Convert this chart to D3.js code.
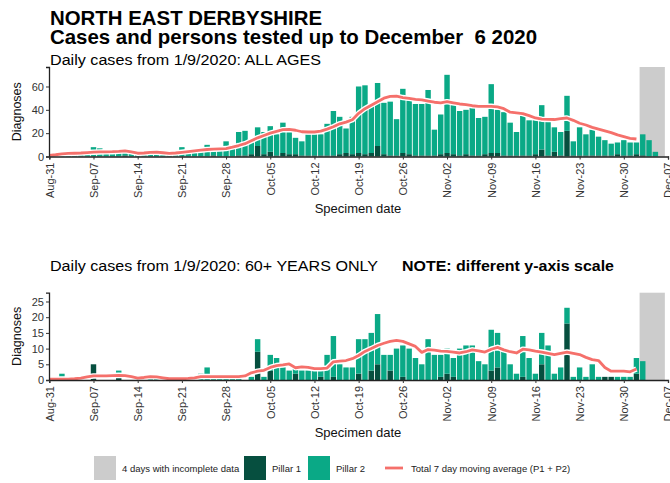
<!DOCTYPE html>
<html>
<head>
<meta charset="utf-8">
<script src="https://cdn.jsdelivr.net/npm/d3@7"></script>
<style>
  body { margin: 0; background: #fff; }
  text { font-family: "Liberation Sans", Arial, sans-serif; }
</style>
</head>
<body>
<svg id="chart" width="670" height="483"></svg>
<script>
// Daily specimen dates covered by the bars
const firstDay = "2020-08-31";
const lastDay = "2020-12-06";
const axisEnd = "2020-12-07";
const incompleteFrom = "2020-12-03";
const incompleteTo = "2020-12-06";

const weekTickLabels = ["Aug-31","Sep-07","Sep-14","Sep-21","Sep-28","Oct-05","Oct-12",
  "Oct-19","Oct-26","Nov-02","Nov-09","Nov-16","Nov-23","Nov-30","Dec-07"];

// All ages: daily cases by pillar (one value per day from Aug-31)
const allAgesPillar1 = [
  0,0,0,0,0,0,0,0,0,0,
  0,0,1,0,0,0,0,0,0,0,
  0,0,0,0,0,0,1,0,0,0,
  1,1,2,9,2,4,1,3,2,2,
  1,1,1,1,1,1,2,3,2,3,
  2,3,9,2,1,1,3,2,1,1,
  1,1,2,3,2,1,2,1,1,2,
  3,3,1,1,1,1,1,2,6,1,
  4,1,22,1,1,1,1,1,1,1,
  2,1,1,2,1,0,0,0];
const allAgesPillar2 = [
  0,1,2,3,2,3,2,8,7,3,
  4,4,5,3,2,3,4,4,3,2,
  3,8,4,5,5,10,5,7,13,8,
  20,21,10,16,19,22,18,26,19,14,
  12,18,18,18,27,38,32,21,32,57,
  59,41,54,44,46,31,55,46,44,44,
  56,22,34,67,42,38,38,41,32,32,
  59,37,37,28,20,35,30,29,38,30,
  21,20,30,12,24,18,22,16,13,10,
  10,13,11,10,18,14,4,0];
// All ages: total 7 day moving average (Aug-31 .. Dec-02)
const allAgesAverage = [
  1.0,1.5,2.3,2.6,2.8,3.0,3.4,3.7,3.9,4.0,
  4.1,4.4,4.9,4.0,2.8,3.0,3.6,3.7,3.2,2.7,
  3.0,3.6,4.2,4.9,5.4,6.0,6.3,6.5,6.8,8.0,
  9.4,11.0,13.5,16.0,18.0,20.0,21.5,23.0,23.2,22.5,
  21.2,21.0,21.0,21.7,23.5,25.5,28.0,29.5,31.5,37.0,
  41.0,44.0,47.0,50.0,51.5,51.7,50.5,49.8,49.0,48.5,
  47.5,46.5,46.0,47.0,46.0,45.0,44.5,43.5,43.0,43.0,
  43.0,42.5,41.0,38.0,37.4,36.8,35.0,33.0,32.0,31.8,
  31.7,32.5,33.0,31.0,28.5,27.0,25.0,23.5,22.0,20.5,
  18.5,17.0,15.6,15.0];

// 60+ years: daily cases by pillar
const olderPillar1 = [
  0,0,0,0,0,0,0,5,0,0,
  0,1,0,0,0,0,0,0,0,0,
  0,0,0,0,0,0,0,0,0,0,
  0,0,0,9,0,3,0,0,0,2,
  0,0,0,1,0,1,0,0,0,2,
  0,3,5,0,3,0,1,0,0,0,
  0,0,1,2,1,0,0,0,0,0,
  3,4,0,0,0,1,0,0,5,0,
  0,0,18,0,0,0,0,0,1,1,
  0,0,0,2,0,0,0,0];
const olderPillar2 = [
  0,0,2,0,0,0,0,0,0,0,
  0,2,0,0,1,0,1,1,0,1,
  0,0,0,0,2,4,1,1,1,1,
  1,0,1,4,1,5,7,5,3,2,
  3,3,3,2,8,13,5,4,4,11,
  13,12,16,8,5,10,10,10,7,5,
  13,8,7,8,6,10,11,11,6,5,
  13,11,9,5,2,13,7,2,10,11,
  2,4,5,1,4,1,5,1,0,0,
  1,1,1,5,6,0,0,0];
const olderAverage = [
  0.3,0.3,0.3,0.3,0.4,0.6,1.0,1.3,1.3,1.3,
  1.4,1.5,1.4,1.1,0.6,0.8,1.1,1.0,0.7,0.4,
  0.4,0.4,0.5,0.7,1.1,1.1,1.1,1.1,1.1,1.1,
  1.1,1.3,2.3,2.8,3.1,4.0,4.6,4.8,5.1,3.9,
  4.2,4.0,3.6,3.6,3.8,5.8,6.0,6.2,6.8,7.8,
  9.1,10.0,11.0,11.7,12.3,12.6,12.3,11.5,10.7,8.8,
  9.7,9.5,9.2,9.1,8.9,8.6,9.0,9.6,9.3,8.9,
  9.8,10.4,9.6,9.0,8.6,9.8,9.6,9.2,8.9,8.5,
  8.1,8.5,8.9,8.5,8.1,7.2,6.5,6.2,4.0,2.8,
  2.8,2.8,2.6,3.5];

const legendLabels = ["4 days with incomplete data", "Pillar 1", "Pillar 2",
  "Total 7 day moving average (P1 + P2)"];

const colors = { incomplete: "#cccccc", p1: "#064f3f", p2: "#0aa986", avg: "#f5706b" };

const parse = d3.utcParse("%Y-%m-%d");
const days = d3.utcDay.range(parse(firstDay), d3.utcDay.offset(parse(lastDay), 1));
const tickDates = weekTickLabels.map(s => d3.utcParse("%b-%d-%Y")(s + "-2020"));

const svg = d3.select("#chart");
const x = d3.scaleUtc().domain([parse(firstDay), parse(axisEnd)]).range([49.3, 668]);
const dayW = x(days[1]) - x(days[0]);
const barW = dayW * 0.86;

function panel(cfg) {
  const y = d3.scaleLinear().domain([0, cfg.yMax]).range([cfg.bottom, cfg.top]);
  const g = svg.append("g");

  // incomplete-data shading
  g.append("rect")
    .attr("x", x(parse(incompleteFrom)) - dayW / 2)
    .attr("width", x(parse(incompleteTo)) - x(parse(incompleteFrom)) + dayW)
    .attr("y", cfg.top).attr("height", cfg.bottom - cfg.top)
    .attr("fill", colors.incomplete);

  const rows = days.map((d, i) => ({ d, p1: cfg.p1[i], p2: cfg.p2[i] }));
  const stacked = d3.stack().keys(["p1", "p2"])(rows);
  g.selectAll("g.layer").data(stacked).join("g")
    .attr("fill", s => colors[s.key])
    .selectAll("rect").data(s => s.filter(v => v[1] > v[0])).join("rect")
    .attr("x", v => x(v.data.d) - barW / 2)
    .attr("width", barW)
    .attr("y", v => y(v[1]))
    .attr("height", v => y(v[0]) - y(v[1]));

  const line = d3.line().x((v, i) => x(days[i])).y(v => y(v));
  g.append("path").datum(cfg.avg).attr("d", line)
    .attr("fill", "none").attr("stroke", "#fff").attr("stroke-width", 5.5)
    .attr("stroke-linejoin", "round");
  g.append("path").datum(cfg.avg).attr("d", line)
    .attr("fill", "none").attr("stroke", colors.avg).attr("stroke-width", 2.8)
    .attr("stroke-linejoin", "round");

  const yAxis = g.append("g").attr("transform", `translate(${x.range()[0] - 0.3},0)`)
    .call(d3.axisLeft(y).tickValues(cfg.yTicks).tickSize(3).tickPadding(2));
  const xAxis = g.append("g").attr("transform", `translate(0,${cfg.bottom})`)
    .call(d3.axisBottom(x).tickValues(tickDates).tickSize(3)
      .tickFormat((d, i) => weekTickLabels[i]));
  xAxis.selectAll("text")
    .attr("transform", "rotate(-90)")
    .attr("text-anchor", "end")
    .attr("x", -6).attr("y", 0).attr("dy", "0.35em");
  [yAxis, xAxis].forEach(a => {
    a.select(".domain").attr("stroke", "#222").attr("stroke-width", 1.3);
    a.selectAll(".tick line").attr("stroke", "#333");
    a.selectAll(".tick text").attr("fill", "#333").attr("font-size", 11)
      .attr("font-family", "Liberation Sans, Arial, sans-serif");
  });

  svg.append("text").attr("x", 17).attr("y", (cfg.top + cfg.bottom) / 2)
    .attr("transform", `rotate(-90,17,${(cfg.top + cfg.bottom) / 2})`)
    .attr("text-anchor", "middle").attr("dy", "0.35em")
    .attr("font-size", 12.5).attr("fill", "#111").text("Diagnoses");
  svg.append("text").attr("x", 358).attr("y", cfg.xTitleY)
    .attr("text-anchor", "middle").attr("font-size", 13).attr("fill", "#111")
    .text("Specimen date");
}

// Titles
function label(xp, yp, size, weight, width, str) {
  svg.append("text").attr("x", xp).attr("y", yp).attr("font-size", size)
    .attr("font-weight", weight).attr("fill", "#000")
    .attr("textLength", width).attr("lengthAdjust", "spacingAndGlyphs")
    .text(str);
}
label(50, 25, 21, "bold", 272, "NORTH EAST DERBYSHIRE");
label(50, 44, 21, "bold", 487, "Cases and persons tested up to December\u00a0 6 2020");
label(50, 65, 15.5, "normal", 271, "Daily cases from 1/9/2020: ALL AGES");
label(50, 271, 15.5, "normal", 328, "Daily cases from 1/9/2020: 60+ YEARS ONLY");
label(402, 271, 15.5, "bold", 212, "NOTE: different y-axis scale");

panel({ top: 67, bottom: 156.5, yMax: 76.7, yTicks: [0, 20, 40, 60],
  p1: allAgesPillar1, p2: allAgesPillar2, avg: allAgesAverage, xTitleY: 213 });
panel({ top: 292.7, bottom: 380, yMax: 27.8, yTicks: [0, 5, 10, 15, 20, 25],
  p1: olderPillar1, p2: olderPillar2, avg: olderAverage, xTitleY: 437 });

// Legend
const lg = svg.append("g");
const keys = [
  { x: 94, type: "box", color: colors.incomplete, label: legendLabels[0] },
  { x: 244, type: "box", color: colors.p1, label: legendLabels[1] },
  { x: 308, type: "box", color: colors.p2, label: legendLabels[2] },
  { x: 385, type: "line", color: colors.avg, label: legendLabels[3] }
];
keys.forEach(k => {
  if (k.type === "box") {
    lg.append("rect").attr("x", k.x).attr("y", 456).attr("width", 22).attr("height", 24)
      .attr("fill", k.color);
    lg.append("text").attr("x", k.x + 28).attr("y", 472).attr("font-size", 9.5)
      .attr("fill", "#222").text(k.label);
  } else {
    lg.append("line").attr("x1", k.x).attr("x2", k.x + 18).attr("y1", 468).attr("y2", 468)
      .attr("stroke", k.color).attr("stroke-width", 2.8);
    lg.append("text").attr("x", k.x + 26).attr("y", 472).attr("font-size", 9.5)
      .attr("fill", "#222").text(k.label);
  }
});
</script>
</body>
</html>
